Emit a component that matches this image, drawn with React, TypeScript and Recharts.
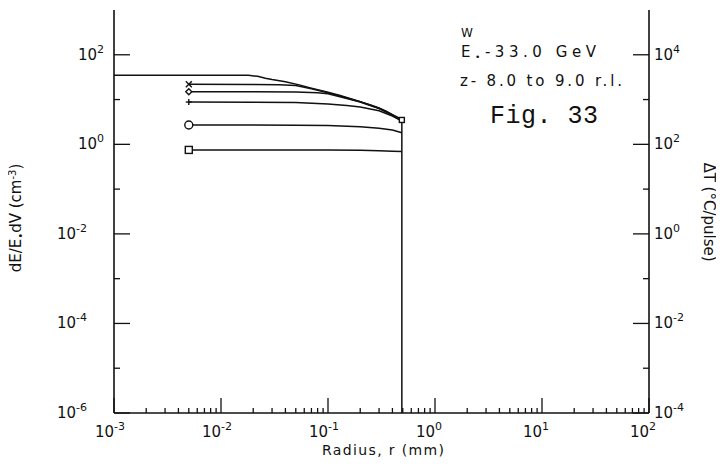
import React from 'react';
import { LineChart, Line, XAxis, YAxis } from 'recharts';

// ---- axis ticks ----
const X_MAJOR = [1e-3, 1e-2, 1e-1, 1, 10, 100];
const LEFT_MAJOR = [1e-6, 1e-4, 1e-2, 1, 100];
const LEFT_MINOR = [1e-5, 1e-3, 1e-1, 10];
const RIGHT_MAJOR = [1e-4, 1e-2, 1, 100, 1e4];
const RIGHT_MINOR = [1e-3, 1e-1, 10, 1e3];
const X_MINOR_MULT = [2, 3, 4, 5, 6, 7, 8, 9];

// ---- series (radius in mm, dE/E0dV in cm^-3) ----
const topR = [0.001, 0.018, 0.022, 0.026, 0.03, 0.04, 0.055, 0.07, 0.1, 0.13, 0.16, 0.2, 0.25, 0.3, 0.35, 0.4, 0.45, 0.49, 0.49];
const topV = [35, 35, 33, 30, 28, 25, 21, 18, 14.5, 12.3, 10.6, 9, 7.6, 6.5, 5.5, 4.6, 4.0, 3.5, 1e-6];

const crossR = [0.005, 0.02, 0.035, 0.05, 0.07, 0.1, 0.15, 0.2, 0.3, 0.4, 0.49];
const crossV = [22, 21.8, 21.5, 20.5, 17.5, 14.2, 10.8, 8.9, 6.4, 4.55, 3.45];

const diamondR = [0.005, 0.02, 0.05, 0.08, 0.1, 0.15, 0.2, 0.3, 0.4, 0.49];
const diamondV = [15, 14.9, 14.7, 14.2, 13.4, 10.6, 8.8, 6.3, 4.5, 3.4];

const plusR = [0.005, 0.02, 0.05, 0.1, 0.15, 0.2, 0.3, 0.4, 0.49];
const plusV = [8.8, 8.75, 8.6, 8.0, 7.4, 6.8, 5.6, 4.3, 3.3];

const circleR = [0.005, 0.02, 0.05, 0.1, 0.2, 0.3, 0.4, 0.49];
const circleV = [2.7, 2.7, 2.68, 2.62, 2.48, 2.3, 2.08, 1.82];

const squareR = [0.005, 0.05, 0.1, 0.2, 0.3, 0.4, 0.49];
const squareV = [0.75, 0.75, 0.745, 0.735, 0.72, 0.705, 0.69];

const zip = (r: number[], v: number[]) => r.map((x, i) => ({ x, y: v[i] }));

const X_TICKS: number[] = [];
X_MAJOR.forEach((d, i) => {
  X_TICKS.push(d);
  if (i < X_MAJOR.length - 1) X_MINOR_MULT.forEach((m) => X_TICKS.push(d * m));
});

const FONT = 'DejaVu Sans';
const INK = '#111';

const near = (a: number, b: number) => Math.abs(Math.log10(a) - Math.log10(b)) < 1e-6;
const isIn = (v: number, list: number[]) => list.some((m) => near(m, v));
const expOf = (v: number) => String(Math.round(Math.log10(v)));

const Pow = ({ x, y, v, anchor }: any) => (
  <text x={x} y={y} fontFamily={FONT} fontSize={15} fill={INK} textAnchor={anchor || 'start'}>
    10<tspan dy={-7} fontSize={11}>{expOf(v)}</tspan>
  </text>
);

const BottomTick = (p: any) => {
  const { x, y, payload } = p;
  const v = payload.value;
  const major = isIn(v, X_MAJOR);
  return (
    <g>
      <line x1={x} x2={x} y1={y} y2={y - (major ? 15 : 5)} stroke={INK} strokeWidth={1.3} />
      {major && <Pow x={x - 19} y={y + 24} v={v} />}
    </g>
  );
};

const TopTick = (p: any) => {
  const { x, y, payload } = p;
  const v = payload.value;
  const major = isIn(v, X_MAJOR);
  return (
    <g>
      <line x1={x} x2={x} y1={y} y2={y + (major ? 15 : 5)} stroke={INK} strokeWidth={1.3} />
    </g>
  );
};

const LeftTick = (p: any) => {
  const { x, y, payload } = p;
  const v = payload.value;
  const major = isIn(v, LEFT_MAJOR);
  const neg = Math.log10(v) < -0.5;
  return (
    <g>
      <line x1={x} x2={x + (major ? 16 : 6)} y1={y} y2={y} stroke={INK} strokeWidth={1.3} />
      {major && <Pow x={x - (neg ? 57 : 36)} y={y + 5} v={v} />}
    </g>
  );
};

const RightTick = (p: any) => {
  const { x, y, payload } = p;
  const v = payload.value;
  const major = isIn(v, RIGHT_MAJOR);
  return (
    <g>
      <line x1={x} x2={x - (major ? 16 : 6)} y1={y} y2={y} stroke={INK} strokeWidth={1.3} />
      {major && <Pow x={x + 5} y={y + 5} v={v} />}
    </g>
  );
};

const makeDot = (kind: string, at: number, size = 7) => (props: any) => {
  const { cx, cy, index } = props;
  const key = `${kind}-${index}`;
  if (index !== at || cx == null || cy == null) return <g key={key} />;
  const s = { stroke: INK, strokeWidth: 1.4, fill: 'white' };
  if (kind === 'cross')
    return (
      <g key={key}>
        <line x1={cx - 3} y1={cy - 3} x2={cx + 3} y2={cy + 3} {...s} />
        <line x1={cx - 3} y1={cy + 3} x2={cx + 3} y2={cy - 3} {...s} />
      </g>
    );
  if (kind === 'diamond')
    return <path key={key} d={`M${cx},${cy - 3} L${cx + 3},${cy} L${cx},${cy + 3} L${cx - 3},${cy} Z`} {...s} />;
  if (kind === 'plus')
    return (
      <g key={key}>
        <line x1={cx - 3} y1={cy} x2={cx + 3} y2={cy} {...s} />
        <line x1={cx} y1={cy - 3} x2={cx} y2={cy + 3} {...s} />
      </g>
    );
  if (kind === 'circle') return <circle key={key} cx={cx} cy={cy} r={4} {...s} />;
  return <rect key={key} x={cx - size / 2} y={cy - size / 2} width={size} height={size} {...s} />;
};

const series = [
  { id: 'top', data: zip(topR, topV), dot: makeDot('square', topR.length - 2, 5) },
  { id: 'cross', data: zip(crossR, crossV), dot: makeDot('cross', 0) },
  { id: 'diamond', data: zip(diamondR, diamondV), dot: makeDot('diamond', 0) },
  { id: 'plus', data: zip(plusR, plusV), dot: makeDot('plus', 0) },
  { id: 'circle', data: zip(circleR, circleV), dot: makeDot('circle', 0) },
  { id: 'square', data: zip(squareR, squareV), dot: makeDot('square', 0) },
];

const W = 716;
const H = 459;

export default function App() {
  return (
    <div style={{ position: 'relative', width: W, height: H }}>
      <LineChart width={W} height={H} margin={{ top: 2, right: 0, bottom: 0, left: 0 }}>
        <XAxis
          xAxisId="b"
          type="number"
          dataKey="x"
          scale="log"
          domain={[1e-3, 100]}
          allowDataOverflow
          ticks={X_TICKS}
          interval={0}
          tickSize={0}
          tickMargin={0}
          tickLine={false}
          height={54}
          axisLine={{ stroke: INK, strokeWidth: 1.6 }}
          tick={BottomTick}
        />
        <XAxis
          xAxisId="t"
          orientation="top"
          type="number"
          dataKey="x"
          scale="log"
          domain={[1e-3, 100]}
          allowDataOverflow
          ticks={X_TICKS}
          interval={0}
          tickSize={0}
          tickMargin={0}
          tickLine={false}
          height={0}
          axisLine={{ stroke: INK, strokeWidth: 1.6 }}
          tick={TopTick}
        />
        <YAxis
          yAxisId="l"
          type="number"
          dataKey="y"
          scale="log"
          domain={[1e-6, 1e3]}
          allowDataOverflow
          ticks={[...LEFT_MAJOR, ...LEFT_MINOR].sort((a, b) => a - b)}
          interval={0}
          tickSize={0}
          tickMargin={0}
          tickLine={false}
          width={106}
          axisLine={{ stroke: INK, strokeWidth: 1.6 }}
          tick={LeftTick}
        />
        <YAxis
          yAxisId="r"
          orientation="right"
          type="number"
          dataKey="y"
          scale="log"
          domain={[1e-4, 1e5]}
          allowDataOverflow
          ticks={[...RIGHT_MAJOR, ...RIGHT_MINOR].sort((a, b) => a - b)}
          interval={0}
          tickSize={0}
          tickMargin={0}
          tickLine={false}
          width={75}
          axisLine={{ stroke: INK, strokeWidth: 1.6 }}
          tick={RightTick}
        />
        <Line
          xAxisId="t"
          yAxisId="r"
          data={[{ x: 1e-3, y: 1e-4 }, { x: 100, y: 1e5 }]}
          dataKey="y"
          stroke="none"
          dot={false}
          isAnimationActive={false}
        />
        {series.map((s) => (
          <Line
            key={s.id}
            xAxisId="b"
            yAxisId="l"
            data={s.data}
            dataKey="y"
            type="linear"
            stroke={INK}
            strokeWidth={1.5}
            dot={s.dot}
            activeDot={false}
            isAnimationActive={false}
          />
        ))}
      </LineChart>
      <svg width={W} height={H} style={{ position: 'absolute', left: 0, top: 0, pointerEvents: 'none' }}>
        <text x={453} y={29} fontFamily={FONT} fontSize={12} fill={INK}>W</text>
        <text x={453} y={49} fontFamily={FONT} fontSize={15} fill={INK} textLength={135} lengthAdjust="spacing">
          E<tspan dy={3} fontSize={9}>•</tspan><tspan dy={-3}>-33.0 GeV</tspan>
        </text>
        <text x={452} y={78} fontFamily={FONT} fontSize={15} fill={INK} textLength={162} lengthAdjust="spacing">
          z- 8.0 to  9.0 r.l.
        </text>
        <text x={482} y={115} fontFamily="Liberation Mono" fontSize={25} fill={INK} textLength={108} lengthAdjust="spacing">
          Fig. 33
        </text>
        <text
          x={13}
          y={210}
          fontFamily={FONT}
          fontSize={15}
          fill={INK}
          textAnchor="middle"
          transform="rotate(-90, 13, 210)"
        >
          dE/E<tspan dy={3} fontSize={10}>•</tspan><tspan dy={-3}>dV (cm</tspan><tspan dy={-5} fontSize={10}>-3</tspan><tspan dy={5}>)</tspan>
        </text>
        <text
          x={696}
          y={204}
          fontFamily={FONT}
          fontSize={15}
          fill={INK}
          textAnchor="middle"
          transform="rotate(90, 696, 204)"
        >
          ΔT (°C/pulse)
        </text>
        <text x={375} y={447} fontFamily={FONT} fontSize={14} fill={INK} textAnchor="middle" textLength={122} lengthAdjust="spacing">
          Radius, r (mm)
        </text>
      </svg>
    </div>
  );
}
